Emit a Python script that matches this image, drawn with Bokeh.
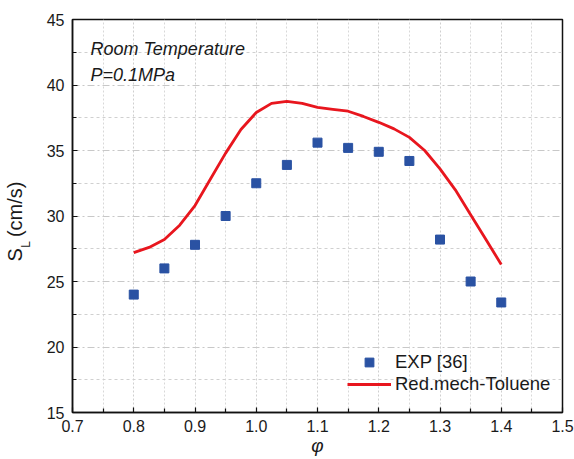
from bokeh.plotting import figure
from bokeh.models import (Range1d, FixedTicker, PrintfTickFormatter, Label,
                          Legend, LegendItem, LinearAxis)
from bokeh.embed import file_html
from bokeh.resources import INLINE

# ---- data ----
exp_phi = [0.80, 0.85, 0.90, 0.95, 1.00, 1.05, 1.10, 1.15, 1.20, 1.25, 1.30, 1.35, 1.40]
exp_sl = [24.0, 26.0, 27.8, 30.0, 32.5, 33.9, 35.6, 35.2, 34.9, 34.2, 28.2, 25.0, 23.4]

mech_phi = [0.800, 0.825, 0.850, 0.875, 0.900, 0.925, 0.950, 0.975, 1.000, 1.025,
            1.050, 1.075, 1.100, 1.125, 1.150, 1.175, 1.200, 1.225, 1.250, 1.275,
            1.300, 1.325, 1.350, 1.375, 1.400]
mech_sl = [27.2, 27.6, 28.2, 29.3, 30.8, 32.8, 34.8, 36.6, 37.9, 38.6,
           38.75, 38.6, 38.3, 38.14, 38.0, 37.6, 37.15, 36.65, 36.0, 35.0,
           33.6, 32.0, 30.1, 28.2, 26.3]

x_ticks = [0.7, 0.8, 0.9, 1.0, 1.1, 1.2, 1.3, 1.4, 1.5]
x_minor = [0.75, 0.85, 0.95, 1.05, 1.15, 1.25, 1.35, 1.45]
y_ticks = [15, 20, 25, 30, 35, 40, 45]
y_minor = [17.5, 22.5, 27.5, 32.5, 37.5, 42.5]

FONT = "Liberation Sans"
TXT = "#1a1a1a"
NB = "\u00a0"

p = figure(width=574, height=459, x_range=Range1d(0.7, 1.5), y_range=Range1d(15, 45),
           output_backend="svg", toolbar_location=None,
           min_border_left=72, min_border_right=12, min_border_top=19, min_border_bottom=47)

p.background_fill_color = "white"
p.border_fill_color = "white"
p.outline_line_color = "#111111"
p.outline_line_width = 1.5

# axes
p.xaxis.ticker = FixedTicker(ticks=x_ticks, minor_ticks=x_minor)
p.yaxis.ticker = FixedTicker(ticks=y_ticks, minor_ticks=y_minor)
p.xaxis.formatter = PrintfTickFormatter(format="%.1f")
p.yaxis.formatter = PrintfTickFormatter(format="%d")
for ax in (p.xaxis[0], p.yaxis[0]):
    ax.axis_line_color = "#111111"
    ax.axis_line_width = 1.5
    ax.major_tick_in = 5
    ax.major_tick_out = 0
    ax.minor_tick_in = 4
    ax.minor_tick_out = 0
    ax.major_tick_line_color = "#111111"
    ax.minor_tick_line_color = "#111111"
    ax.major_tick_line_width = 1.2
    ax.minor_tick_line_width = 1.2
    ax.major_label_text_font = FONT
    ax.major_label_text_font_size = "16px"
    ax.major_label_text_color = TXT
p.xaxis.major_label_standoff = 7
p.yaxis.major_label_standoff = 8

# x-axis label
p.xaxis.axis_label = "φ"
p.xaxis.axis_label_text_font = FONT
p.xaxis.axis_label_text_font_size = "19px"
p.xaxis.axis_label_text_font_style = "italic"
p.xaxis.axis_label_text_color = TXT
p.xaxis.axis_label_standoff = 0

# y-axis label: subscript "L" on the main axis, "S (cm/s)" on an outer label-only axis
p.yaxis.axis_label = "L" + NB * 17
p.yaxis.axis_label_text_font = FONT
p.yaxis.axis_label_text_font_size = "12px"
p.yaxis.axis_label_text_font_style = "normal"
p.yaxis.axis_label_text_color = TXT
p.yaxis.axis_label_standoff = 11

ylab = LinearAxis(ticker=FixedTicker(ticks=[]), axis_line_alpha=0,
                  major_tick_in=0, major_tick_out=0, minor_tick_in=0, minor_tick_out=0,
                  major_label_standoff=0,
                  axis_label="S" + NB * 2 + "(cm/s)" + NB * 2,
                  axis_label_standoff=-10,
                  axis_label_text_font=FONT, axis_label_text_font_size="20px",
                  axis_label_text_font_style="normal", axis_label_text_color=TXT)
p.add_layout(ylab, "left")

# grids
p.xgrid.grid_line_color = "#cfcfcf"
p.xgrid.grid_line_dash = "2 2"
p.xgrid.minor_grid_line_color = "#d8d8d8"
p.xgrid.minor_grid_line_dash = "2 2"
p.ygrid.grid_line_color = "#c8c8c8"
p.ygrid.grid_line_dash = "7 3 2 3"
p.ygrid.minor_grid_line_color = "#d0d0d0"
p.ygrid.minor_grid_line_dash = "3 3"

# glyphs
ln = p.line(mech_phi, mech_sl, line_color="#e8161e", line_width=2.8, line_join="round")
sq = p.scatter(exp_phi, exp_sl, marker="square", size=9,
               fill_color="#2a52a3", line_color="#2a52a3")

legend = Legend(items=[LegendItem(label="EXP [36]", renderers=[sq]),
                       LegendItem(label="Red.mech-Toluene", renderers=[ln])],
                location=(275, 17), orientation="vertical",
                glyph_width=44, glyph_height=22, label_height=22,
                label_standoff=4, spacing=0, padding=0, margin=0,
                border_line_alpha=0, background_fill_alpha=0,
                label_text_font=FONT, label_text_font_size="18.5px",
                label_text_color=TXT)
p.add_layout(legend)

def lab(text, x, y, size="18px", style="normal"):
    p.add_layout(Label(x=x, y=y, x_units="screen", y_units="screen", text=text,
                       text_font=FONT, text_font_size=size,
                       text_font_style=style, text_color=TXT,
                       text_align="left", text_baseline="alphabetic"))

# annotations
lab("Room Temperature", 18, 364, style="italic")
lab("P=0.1MPa", 18, 338, style="italic")

open("out.html", "w").write(file_html(p, INLINE))
